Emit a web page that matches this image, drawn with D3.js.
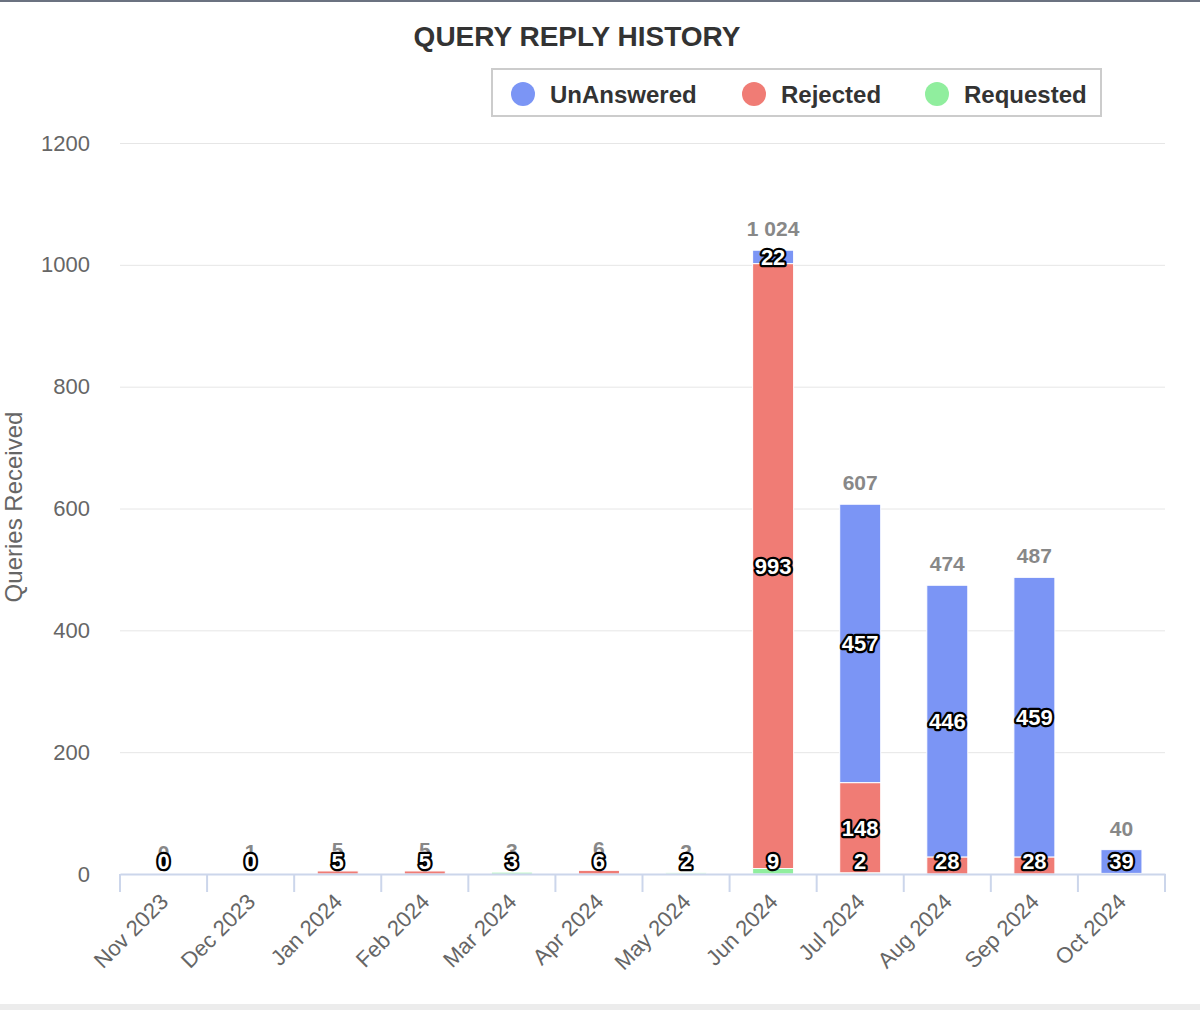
<!DOCTYPE html>
<html>
<head>
<meta charset="utf-8">
<script src="https://cdn.jsdelivr.net/npm/d3@7"></script>
<style>
  body { margin: 0; background: #fff; }
  svg { display: block; font-family: "Liberation Sans", Arial, sans-serif; }
</style>
</head>
<body>
<svg class="chart"></svg>
<script>
// donnees ---------------------------------------------
let months = ["Nov 2023","Dec 2023","Jan 2024","Feb 2024","Mar 2024","Apr 2024",
              "May 2024","Jun 2024","Jul 2024","Aug 2024","Sep 2024","Oct 2024"];
let unAnswered = [0, 0, null, null, null, null, null, 22, 457, 446, 459, 39];
let rejected   = [null, null, 5, 5, null, 6, null, 993, 148, 28, 28, null];
let requested  = [null, 1, null, null, 3, null, 2, 9, 2, null, null, 1];
let yTicks = [0, 200, 400, 600, 800, 1000, 1200];

let seriesNames = ["UnAnswered", "Rejected", "Requested"];
let seriesColors = ["#7b95f5", "#f07c75", "#90ee9e"];
let seriesValues = [unAnswered, rejected, requested];

let w = 1200, h = 1010;
let margin = {top: 143, right: 35, bottom: 136, left: 120};
let y0 = h - margin.bottom;

let svg = d3.select(".chart").attr("width", w).attr("height", h);

// cadre de page
svg.append("rect").attr("x", 0).attr("y", 0).attr("width", w).attr("height", 2).attr("fill", "#6b7280");
svg.append("rect").attr("x", 0).attr("y", 1004).attr("width", w).attr("height", 6).attr("fill", "#ececec");

let x = d3.scaleBand().domain(months).range([margin.left, w - margin.right]).padding(0);
let y = d3.scaleLinear().domain([0, 1200]).range([y0, margin.top]);
let barW = 41;

// titre
svg.append("text")
  .attr("x", 577).attr("y", 46)
  .attr("text-anchor", "middle")
  .attr("font-size", 28).attr("font-weight", "bold").attr("fill", "#333")
  .text("QUERY REPLY HISTORY");

// grille + axe y
let gy = svg.append("g")
  .attr("transform", "translate(" + margin.left + ",0)")
  .call(d3.axisLeft(y).tickValues(yTicks).tickFormat(d3.format("d"))
    .tickSize(-(w - margin.left - margin.right)).tickPadding(30));
gy.select(".domain").remove();
gy.selectAll(".tick line").attr("stroke", "#e6e6e6");
gy.selectAll(".tick text").attr("font-size", 22).attr("fill", "#666").attr("font-family", "Liberation Sans, Arial, sans-serif");

svg.append("text")
  .attr("transform", "translate(22,507) rotate(-90)")
  .attr("text-anchor", "middle")
  .attr("font-size", 24).attr("fill", "#666")
  .text("Queries Received");

// empilement
let table = months.map(function(m, i) {
  return {month: m, UnAnswered: unAnswered[i] || 0, Rejected: rejected[i] || 0, Requested: requested[i] || 0};
});
let stack = d3.stack().keys(["Requested", "Rejected", "UnAnswered"]);
let layers = stack(table);

svg.append("g").selectAll("g")
  .data(layers)
  .enter().append("g")
    .attr("fill", function(d) { return seriesColors[seriesNames.indexOf(d.key)]; })
  .selectAll("rect")
  .data(function(d) { return d; })
  .enter().append("rect")
    .attr("x", function(d) { return x(d.data.month) + (x.bandwidth() - barW) / 2; })
    .attr("y", function(d) { return y(d[1]); })
    .attr("width", barW)
    .attr("height", function(d) { return y(d[0]) - y(d[1]); })
    .attr("stroke", "#fff")
    .attr("stroke-width", function(d) { return d[1] - d[0] > 0 ? 1 : 0; });

// axe x
let gx = svg.append("g")
  .attr("transform", "translate(0," + y0 + ")")
  .call(d3.axisBottom(x).tickSize(0).tickFormat(""));
gx.select(".domain").attr("stroke", "#ccd6eb").attr("stroke-width", 2);
gx.selectAll(".tick").remove();
let bounds = months.map(function(m) { return x(m); }).concat([w - margin.right]);
gx.selectAll(".sep")
  .data(bounds)
  .enter().append("line")
    .attr("x1", function(d) { return d; }).attr("x2", function(d) { return d; })
    .attr("y1", 0).attr("y2", 18)
    .attr("stroke", "#ccd6eb").attr("stroke-width", 2);
gx.selectAll(".lab")
  .data(months)
  .enter().append("text")
    .attr("transform", function(d) { return "translate(" + (x(d) + x.bandwidth() / 2 + 6) + ",29) rotate(-45)"; })
    .attr("text-anchor", "end")
    .attr("font-size", 22).attr("fill", "#666")
    .text(function(d) { return d; });

// totaux
let fmt = d3.formatLocale({decimal: ".", thousands: " ", grouping: [3], currency: ["", ""]}).format(",d");
svg.append("g").selectAll("text")
  .data(table)
  .enter().append("text")
    .attr("x", function(d) { return x(d.month) + x.bandwidth() / 2; })
    .attr("y", function(d) { return y(d.UnAnswered + d.Rejected + d.Requested) - 14; })
    .attr("text-anchor", "middle")
    .attr("font-size", 21).attr("font-weight", "bold").attr("fill", "#888")
    .text(function(d) { return fmt(d.UnAnswered + d.Rejected + d.Requested); });

// etiquettes des segments, masquees si chevauchement
let gl = svg.append("g");
let placed = [];
seriesNames.forEach(function(name, si) {
  let layer = layers.find(function(l) { return l.key === name; });
  seriesValues[si].forEach(function(v, i) {
    if (v === null) return;
    let seg = layer[i];
    let cx = x(months[i]) + x.bandwidth() / 2;
    let cy = Math.min((y(seg[0]) + y(seg[1])) / 2, y0 - 13);
    let txt = String(v);
    let bw = txt.length * 13 + 4, bh = 22;
    let box = {x0: cx - bw / 2, x1: cx + bw / 2, y0: cy - bh / 2, y1: cy + bh / 2};
    let hit = placed.some(function(b) {
      return box.x0 < b.x1 && box.x1 > b.x0 && box.y0 < b.y1 && box.y1 > b.y0;
    });
    if (hit) return;
    placed.push(box);
    gl.append("text")
      .attr("x", cx).attr("y", cy + 8)
      .attr("text-anchor", "middle")
      .attr("font-size", 22).attr("font-weight", "bold")
      .attr("fill", "#fff").attr("stroke", "#000").attr("stroke-width", 4.5)
      .attr("stroke-linejoin", "round").attr("paint-order", "stroke")
      .text(txt);
  });
});

// legende
let lg = svg.append("g");
lg.append("rect").attr("x", 492).attr("y", 69).attr("width", 609).attr("height", 47)
  .attr("fill", "#fff").attr("stroke", "#ccc").attr("stroke-width", 2);
let legX = [523, 754, 937];
seriesNames.forEach(function(name, i) {
  lg.append("circle").attr("cx", legX[i]).attr("cy", 94).attr("r", 12).attr("fill", seriesColors[i]);
  lg.append("text").attr("x", legX[i] + 27).attr("y", 103)
    .attr("font-size", 24).attr("font-weight", "bold").attr("fill", "#333")
    .text(name);
});
</script>
</body>
</html>
